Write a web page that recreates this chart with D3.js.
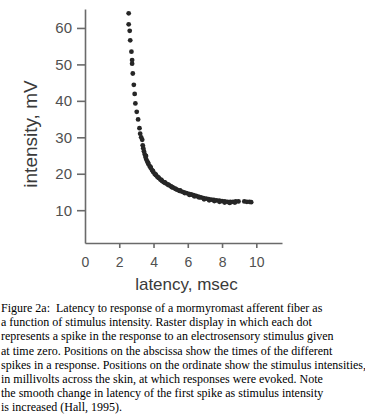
<!DOCTYPE html>
<meta charset="utf-8">
<style>
body { margin: 0; background: #fff; }
.axis path, .axis line { stroke: #6a6a6a; stroke-width: 1.6px; }
.axis text { fill: #505050; font-family: "Liberation Sans", Arial, sans-serif; }
.title { fill: #3a3a3a; font-family: "Liberation Sans", Arial, sans-serif; }
.caption { font-family: "Liberation Serif", "Times New Roman", serif; font-size: 12px; fill: #000; white-space: pre; }
</style>
<body>
<script src="https://d3js.org/d3.v7.min.js"></script>
<script>

// first-spike latency (msec) and stimulus intensity (mV)
var latency = [2.55, 2.55, 2.61, 2.64, 2.71, 2.75, 2.75, 2.79, 2.85, 2.90, 2.94, 3.02, 3.10, 3.18, 3.22, 3.28, 3.34, 3.37,
  3.40, 3.44, 3.48, 3.53, 3.58, 3.64, 3.70, 3.77, 3.84, 3.91, 3.98, 4.06, 4.14, 4.22, 4.31, 4.40, 4.50, 4.60, 4.70, 4.81,
  4.92, 5.03, 5.15, 5.27, 5.39, 5.52, 5.65, 5.78, 5.92, 6.06, 6.20, 6.34, 6.48, 6.62, 6.77, 6.92, 7.07, 7.22, 7.37, 7.52,
  7.68, 7.84, 8.00, 8.16, 8.32, 8.48, 8.64, 8.80, 8.96, 9.30, 9.45, 9.60, 9.70,
  3.56, 3.68, 3.82, 3.96, 4.12, 4.28, 4.46, 4.66, 4.86, 5.08, 5.30, 5.55, 5.82, 6.10, 6.38, 6.66, 6.95, 7.25, 7.55, 7.85,
  8.15, 8.45, 8.75];
var intensity = [64.0, 61.0, 59.2, 56.6, 53.5, 51.2, 50.2, 47.5, 44.4, 41.9, 39.3, 37.0, 34.9, 32.5, 31.0, 30.0, 29.3, 27.8,
  27.0, 26.2, 25.4, 24.6, 23.9, 23.3, 22.7, 22.1, 21.6, 21.0, 20.5, 20.0, 19.6, 19.2, 18.8, 18.4, 18.0, 17.7, 17.4, 17.1,
  16.8, 16.5, 16.2, 15.9, 15.6, 15.3, 15.1, 14.9, 14.7, 14.5, 14.3, 14.1, 13.9, 13.7, 13.5, 13.3, 13.2, 13.0, 12.9, 12.8,
  12.7, 12.6, 12.5, 12.4, 12.3, 12.3, 12.3, 12.4, 12.4, 12.4, 12.3, 12.3, 12.2,
  24.9, 23.0, 21.9, 20.8, 19.8, 19.0, 18.3, 17.6, 17.0, 16.3, 15.8, 15.4, 14.7, 14.2, 13.8, 13.5, 13.0, 12.7, 12.5, 12.3,
  12.1, 12.0, 12.1];

var xTicks = [0, 2, 4, 6, 8, 10];
var yTicks = [10, 20, 30, 40, 50, 60];

var caption = [
  "Figure 2a:  Latency to response of a mormyromast afferent fiber as",
  "a function of stimulus intensity. Raster display in which each dot",
  "represents a spike in the response to an electrosensory stimulus given",
  "at time zero. Positions on the abscissa show the times of the different",
  "spikes in a response. Positions on the ordinate show the stimulus intensities,",
  "in millivolts across the skin, at which responses were evoked. Note",
  "the smooth change in latency of the first spike as stimulus intensity",
  "is increased (Hall, 1995)."
];

var width = 365, height = 417;

var x = d3.scaleLinear().domain([0, 11.5]).range([85, 282]);
var y = d3.scaleLinear().domain([1, 65.2]).range([243, 9]);

var svg = d3.select("body").append("svg")
    .attr("width", width)
    .attr("height", height);

// y axis
var gy = svg.append("g")
    .attr("class", "axis")
    .attr("transform", "translate(85,0)")
    .call(d3.axisLeft(y).tickValues(yTicks).tickSize(8).tickSizeOuter(0).tickPadding(5));
gy.selectAll("text").style("font-size", "15px");

// x axis
var gx = svg.append("g")
    .attr("class", "axis")
    .attr("transform", "translate(0,243)")
    .call(d3.axisBottom(x).tickValues(xTicks).tickSize(5).tickSizeOuter(0).tickPadding(9));
gx.selectAll("text").style("font-size", "14px");
gx.selectAll(".tick").filter(function(d) { return d === 0; }).select("line").remove();

// dots
var pts = latency.map(function(l, i) { return {x: l, y: intensity[i]}; });
svg.append("g").selectAll("circle")
    .data(pts)
  .enter().append("circle")
    .attr("cx", function(d) { return x(d.x); })
    .attr("cy", function(d) { return y(d.y); })
    .attr("r", 2.4)
    .attr("fill", "#262626");

// axis titles
svg.append("text")
    .attr("class", "title")
    .attr("transform", "translate(37,134) rotate(-90)")
    .attr("text-anchor", "middle")
    .style("font-size", "19px")
    .text("intensity, mV");

svg.append("text")
    .attr("class", "title")
    .attr("x", 186.5)
    .attr("y", 290)
    .attr("text-anchor", "middle")
    .style("font-size", "17px")
    .text("latency, msec");

// caption
svg.append("g").selectAll("text")
    .data(caption)
  .enter().append("text")
    .attr("class", "caption")
    .attr("x", 1)
    .attr("y", function(d, i) { return 312 + i * 14.2; })
    .text(function(d) { return d; });

</script>
</body>
